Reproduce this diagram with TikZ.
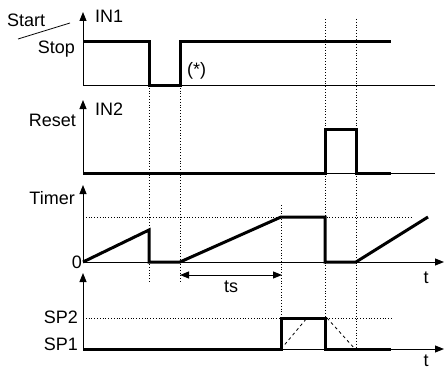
\documentclass[tikz,border=0pt]{standalone}
\usepackage{fontspec}
\setmainfont{Liberation Sans}
\usetikzlibrary{arrows.meta}
\begin{document}
\begin{tikzpicture}[x=1pt,y=-1pt,
  wave/.style={line width=3pt,line join=miter,line cap=butt},
  axis/.style={line width=1pt},
  axarrow/.style={line width=1pt,-{Triangle[length=9pt,width=7pt]}},
  guide/.style={line width=0.8pt,dotted},
  ramp/.style={line width=0.8pt,dashed},
  lbl/.style={inner sep=0pt,font=\fontsize{18}{21}\selectfont}]
\useasboundingbox (0,0) rectangle (444,369);
% guides
\draw[guide] (149,85) -- (149,283);
\draw[guide] (180,85) -- (180,283);
\draw[guide] (325,19) -- (325,349);
\draw[guide] (356,19) -- (356,349);
\draw[guide] (281,205) -- (281,349);
\draw[guide] (83,217) -- (413,217);
\draw[guide] (83,318) -- (392,318);
% axes
\draw[axarrow] (83,85) -- (83,12);
\draw[axis] (83,85) -- (435,85);
\draw[axarrow] (83,173) -- (83,100);
\draw[axis] (83,173) -- (435,173);
\draw[axarrow] (83,262) -- (83,185);
\draw[axarrow] (83,262) -- (444,262);
\draw[axarrow] (83,349) -- (83,273);
\draw[axarrow] (83,349) -- (444,349);
% waves
\draw[wave] (83,42) -- (149,42) -- (149,85) -- (180,85) -- (180,42) -- (391,42);
\draw[wave] (83,173) -- (325,173) -- (325,129) -- (356,129) -- (356,173) -- (391,173);
\draw[wave] (83,262) -- (149,230) -- (149,262) -- (180,262) -- (281,217) -- (325,217) -- (325,262) -- (356,262) -- (428,217);
\draw[wave] (83,349) -- (281,349) -- (281,318) -- (325,318) -- (325,349) -- (391,349);
\draw[ramp] (281,349) -- (307,318);
\draw[ramp] (327,318) -- (355,349);
% ts
\coordinate (tsa) at (180,275);
\coordinate (tsb) at (282,275);
\draw[line width=1pt,{Triangle[length=9pt,width=7pt]}-{Triangle[length=9pt,width=7pt]}] (tsa) -- (tsb);
% labels
\draw[line width=0.8pt] (18,39) -- (70,23);
\node[lbl,anchor=base west] (start) at (7,27) {Start};
\node[lbl,anchor=base east] (stop) at (75,54) {Stop};
\node[lbl,anchor=base west] (in1) at (95,23) {IN1};
\node[lbl,anchor=base west] (ast) at (187,75) {(*)};
\node[lbl,anchor=base east] (reset) at (76,126) {Reset};
\node[lbl,anchor=base west] (in2) at (95,115) {IN2};
\node[lbl,anchor=base east] (timer) at (75,204) {Timer};
\node[lbl,anchor=base east] (zero) at (82,268) {0};
\node[lbl,anchor=base east] (sp2) at (78,323) {SP2};
\node[lbl,anchor=base east] (sp1) at (78,350) {SP1};
\node[lbl,anchor=base] (ts) at (231,292) {ts};
\node[lbl,anchor=base] (t1) at (426,283) {t};
\node[lbl,anchor=base] (t2) at (426,366) {t};
\end{tikzpicture}
\end{document}
